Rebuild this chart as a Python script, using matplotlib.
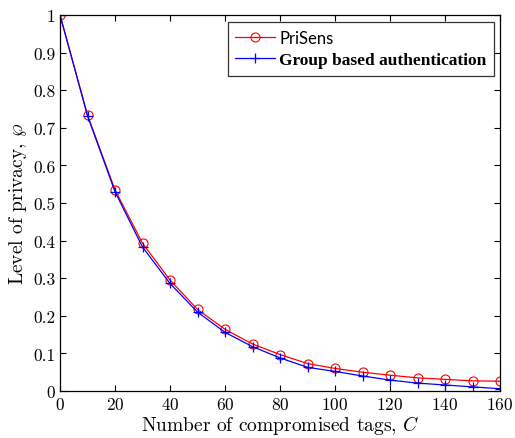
import matplotlib
matplotlib.use("Agg")
import matplotlib.pyplot as plt

plt.rcParams["font.family"] = "serif"
plt.rcParams["font.serif"] = ["cmr10"]
plt.rcParams["mathtext.fontset"] = "cm"
plt.rcParams["axes.formatter.use_mathtext"] = True

# Values
C = [0, 10, 20, 30, 40, 50, 60, 70, 80, 90, 100, 110, 120, 130, 140, 150, 160]
prisens = [1.0, 0.734, 0.535, 0.393, 0.295, 0.217, 0.164, 0.125, 0.097, 0.073,
           0.060, 0.050, 0.042, 0.035, 0.031, 0.027, 0.026]
group_auth = [1.0, 0.732, 0.530, 0.383, 0.286, 0.210, 0.156, 0.118, 0.088, 0.063,
              0.052, 0.040, 0.029, 0.021, 0.016, 0.011, 0.006]

fig = plt.figure(figsize=(5.15, 4.39), dpi=100)
ax = fig.add_axes([60 / 515, 1 - 392 / 439, 440 / 515, 376 / 439])

ax.plot(C, prisens, color="red", linewidth=0.9, marker="o", markersize=6.5,
        markerfacecolor="none", markeredgewidth=0.8, label="PriSens")
ax.plot(C, group_auth, color="blue", linewidth=0.9, marker="+", markersize=7.5,
        markeredgewidth=0.9, label="Group based authentication")

ax.set_xlim(0, 160)
ax.set_ylim(0, 1)
ax.set_xticks(range(0, 161, 20))
ax.set_yticks([0, 0.1, 0.2, 0.3, 0.4, 0.5, 0.6, 0.7, 0.8, 0.9, 1])
ax.set_yticklabels(["0", "0.1", "0.2", "0.3", "0.4", "0.5", "0.6", "0.7", "0.8", "0.9", "1"])
ax.tick_params(direction="in", top=True, right=True, labelsize=12.5, length=4, width=0.8)
for s in ax.spines.values():
    s.set_linewidth(0.9)

ax.set_xlabel(r"Number of compromised tags, $C$", fontsize=14, labelpad=1)
ax.set_ylabel(r"Level of privacy, $\wp$", fontsize=14, labelpad=3)

leg = ax.legend(loc="upper right", bbox_to_anchor=(434 / 440, 369 / 376),
                borderaxespad=0, fontsize=12, frameon=True, fancybox=False,
                edgecolor="black", borderpad=0.45, handlelength=2.4,
                handletextpad=0.25, labelspacing=0.4)
leg.get_frame().set_linewidth(0.9)
texts = leg.get_texts()
texts[0].set_family("Lato")
texts[0].set_fontsize(12)
texts[1].set_family("Liberation Serif")
texts[1].set_fontweight("bold")
texts[1].set_fontsize(12.5)

fig.savefig("out.png", dpi=100, facecolor="white")
